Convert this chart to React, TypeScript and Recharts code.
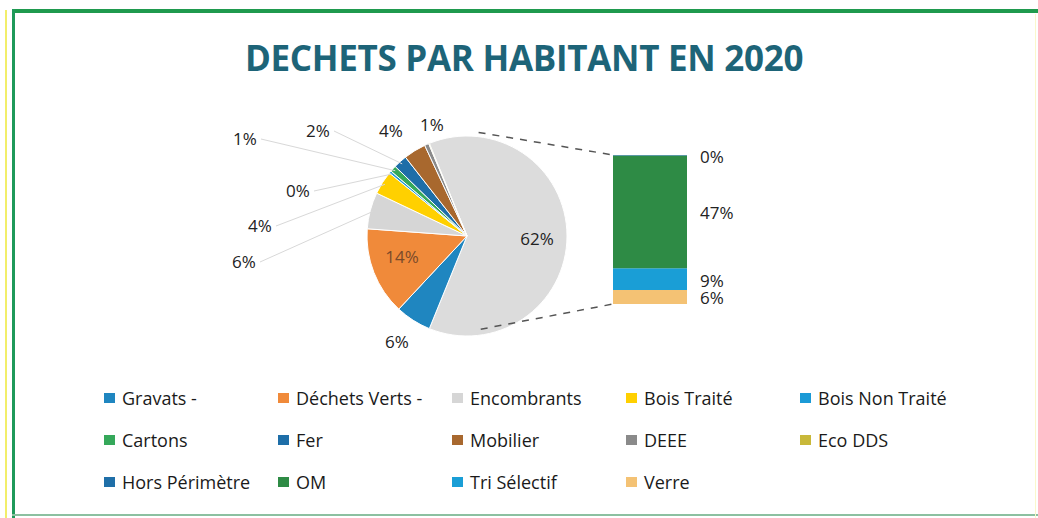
import React from 'react'
import { PieChart, Pie, Cell, BarChart, Bar, XAxis, YAxis, LabelList } from 'recharts'

// Pie part (the first slice is the aggregated "other" slice detailed in the bar)
const pieCategories = ['Gravats -', 'Déchets Verts -', 'Encombrants', 'Bois Traité', 'Bois Non Traité', 'Cartons', 'Fer', 'Mobilier', 'DEEE', 'Eco DDS']
const pieValues = [5.8, 14.2, 5.9, 3.8, 0.4, 1.0, 2.2, 3.6, 0.7, 0.1]

// Bar part (bottom to top)
const barCategories = ['Verre', 'Tri Sélectif', 'OM', 'Hors Périmètre']
const barValues = [5.9, 9.1, 47.1, 0.2]

const legendOrder = [
    'Gravats -', 'Déchets Verts -', 'Encombrants', 'Bois Traité', 'Bois Non Traité',
    'Cartons', 'Fer', 'Mobilier', 'DEEE', 'Eco DDS',
    'Hors Périmètre', 'OM', 'Tri Sélectif', 'Verre'
]

const COLORS: Record<string, string> = {
    'Autre': '#dcdcdc',
    'Gravats -': '#1f86c0',
    'Déchets Verts -': '#f08a3a',
    'Encombrants': '#d6d6d6',
    'Bois Traité': '#ffd000',
    'Bois Non Traité': '#1b9ad6',
    'Cartons': '#35a85a',
    'Fer': '#1e6ea8',
    'Mobilier': '#a8682e',
    'DEEE': '#8a8a8a',
    'Eco DDS': '#c8b83a',
    'Hors Périmètre': '#1f6fa8',
    'OM': '#2e8b45',
    'Tri Sélectif': '#1a9ed6',
    'Verre': '#f4c274'
}

// hand-placed data labels (offset from pie center), like the original
const LABEL_OFFSETS: Record<string, [number, number]> = {
    'Autre': [70, 2],
    'Gravats -': [-70, 105],
    'Déchets Verts -': [-65, 20],
    'Encombrants': [-223, 25],
    'Bois Traité': [-207, -11],
    'Bois Non Traité': [-169, -46],
    'Cartons': [-222, -98],
    'Fer': [-149, -106],
    'Mobilier': [-76, -106],
    'DEEE': [-35, -112]
}

const W = 1038
const H = 518
const CX = 462
const CY = 231
const R = 100
const BAR_LEFT = 613
const BAR_TOP = 155
const BAR_W = 74
const BAR_H = 149
const PAD = 12
const FONT = '"Open Sans", sans-serif'
const RAD = Math.PI / 180

const otherTotal = barValues.reduce((a, b) => a + b, 0)
const grandTotal = otherTotal + pieValues.reduce((a, b) => a + b, 0)

const pieData = [
    { name: 'Autre', value: otherTotal },
    ...pieCategories.map((name, i) => ({ name, value: pieValues[i] }))
]
const barRow: Record<string, number | string> = { name: 'Autre' }
barCategories.forEach((c, i) => { barRow[c] = barValues[i] })
const barData = [barRow]

// the other slice faces the bar (centered on 3 o'clock), then clockwise
const startAngle = (otherTotal / grandTotal) * 180
const endAngle = startAngle - 360

function renderPieLabel(props: any) {
    const { cx, cy, midAngle, outerRadius, percent, index } = props
    const name = pieData[index].name
    const off = LABEL_OFFSETS[name]
    if (!off) return null
    const x = cx + off[0]
    const y = cy + off[1]
    const dist = Math.hypot(off[0], off[1])
    const ex = cx + outerRadius * 0.97 * Math.cos(-midAngle * RAD)
    const ey = cy + outerRadius * 0.97 * Math.sin(-midAngle * RAD)
    return (
        <g key={`lbl-${index}`}>
            {dist > 150 && (
                <line x1={x + 16} y1={y + 1} x2={ex} y2={ey} stroke="#d8d8d8" strokeWidth={1} />
            )}
            <text x={x} y={y} textAnchor="middle" dominantBaseline="central"
                fontFamily={FONT} fontSize={17} fontWeight={500}
                fill={name === 'Déchets Verts -' ? '#7a4a2a' : '#222'}>
                {Math.round(percent * 100)}%
            </text>
        </g>
    )
}

function renderBarLabel(props: any) {
    const { x, y, width, height, value } = props
    return (
        <text x={x + width + 13} y={y + height / 2 + 1} dominantBaseline="central"
            fontFamily={FONT} fontSize={17} fontWeight={500} fill="#222">
            {Math.round((value / grandTotal) * 100)}%
        </text>
    )
}

// tangent point from an external point to the pie circle
function tangent(px: number, py: number, upper: boolean) {
    const dx = px - CX
    const dy = py - CY
    const d = Math.hypot(dx, dy)
    const base = Math.atan2(dy, dx)
    const off = Math.acos(R / d)
    const a = upper ? base - off : base + off
    return [CX + R * Math.cos(a), CY + R * Math.sin(a)]
}

export default function App() {
    const t1 = tangent(BAR_LEFT, BAR_TOP, true)
    const t2 = tangent(BAR_LEFT, BAR_TOP + BAR_H, false)
    return (
        <div style={{ position: 'absolute', left: 0, top: 0, width: W, height: H, background: '#fff', overflow: 'hidden', fontFamily: FONT }}>
            {/* scanned frame */}
            <div style={{ position: 'absolute', left: 5, top: 10, width: 2, height: H - 10, background: '#f2ee6a' }} />
            <div style={{ position: 'absolute', left: 12, top: 9, width: W - 12, height: 4, background: '#1f9a4e' }} />
            <div style={{ position: 'absolute', left: 12, top: 9, width: 3, height: H - 6, background: '#1f9a5a' }} />
            <div style={{ position: 'absolute', left: 12, top: 514, width: W - 12, height: 2, background: '#8cc0a0' }} />
            <div style={{ position: 'absolute', left: W - 3, top: 14, width: 1, height: H - 14, background: '#faf8cc' }} />

            <div style={{ position: 'absolute', left: 0, top: 34, width: W + 10, textAlign: 'center', fontSize: 35, fontWeight: 700, color: '#1d6478', letterSpacing: -0.3 }}>
                DECHETS PAR HABITANT EN 2020
            </div>

            <div style={{ position: 'absolute', left: 0, top: 0 }}>
                <PieChart width={W} height={H}>
                    <Pie
                        data={pieData}
                        dataKey="value"
                        nameKey="name"
                        cx={CX}
                        cy={CY}
                        outerRadius={R}
                        startAngle={startAngle}
                        endAngle={endAngle}
                        stroke="#fff"
                        strokeWidth={1}
                        label={renderPieLabel}
                        labelLine={false}
                        isAnimationActive={false}
                    >
                        {pieData.map((d, i) => (
                            <Cell key={`cell-${i}`} fill={COLORS[d.name]} />
                        ))}
                    </Pie>
                </PieChart>
            </div>

            <svg width={W} height={H} style={{ position: 'absolute', left: 0, top: 0, pointerEvents: 'none' }}>
                <line x1={t1[0]} y1={t1[1]} x2={BAR_LEFT} y2={BAR_TOP} stroke="#555" strokeWidth={1.5} strokeDasharray="7 7" />
                <line x1={t2[0]} y1={t2[1]} x2={BAR_LEFT} y2={BAR_TOP + BAR_H} stroke="#555" strokeWidth={1.5} strokeDasharray="7 7" />
            </svg>

            <div style={{ position: 'absolute', left: BAR_LEFT, top: BAR_TOP - PAD }}>
                <BarChart width={BAR_W + 60} height={BAR_H + PAD * 2} data={barData}
                    margin={{ top: PAD, right: 60, bottom: PAD, left: 0 }} barCategoryGap={0}>
                    <XAxis dataKey="name" hide />
                    <YAxis hide domain={[0, otherTotal]} />
                    {barCategories.map(c => (
                        <Bar key={c} dataKey={c} stackId="a" fill={COLORS[c]} isAnimationActive={false}>
                            <LabelList dataKey={c} content={renderBarLabel} />
                        </Bar>
                    ))}
                </BarChart>
            </div>

            <div style={{ position: 'absolute', left: 100, top: 386, display: 'grid', gridTemplateColumns: 'repeat(5, 174px)', rowGap: 18 }}>
                {legendOrder.map(name => (
                    <div key={name} style={{ display: 'flex', alignItems: 'center', height: 24, fontSize: 18, color: '#1a1a1a', whiteSpace: 'nowrap' }}>
                        <span style={{ display: 'inline-block', width: 11, height: 10, background: COLORS[name], marginRight: 7, marginLeft: 4 }} />
                        {name}
                    </div>
                ))}
            </div>
        </div>
    )
}
